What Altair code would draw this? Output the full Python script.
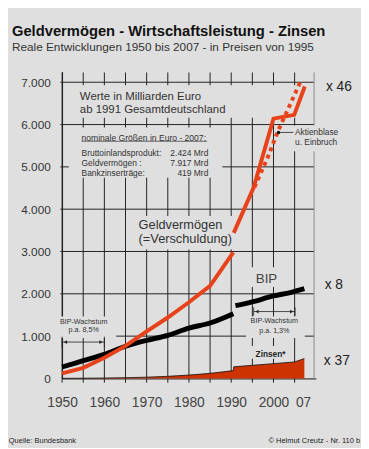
import altair as alt
import pandas as pd

BG = "#dfdfdf"
RED = "#e8421a"
ZINS = "#cc3300"
FONT = "Liberation Sans"

# ---------------- data ----------------
gv_old_years = [1950, 1955, 1960, 1965, 1970, 1975, 1980, 1985, 1990.5]
gv_old_vals = [120, 250, 490, 770, 1110, 1440, 1800, 2190, 2980]
gv_new_years = [1990.6, 1995.3, 2000, 2004.9, 2007.4]
gv_new_vals = [3440, 4510, 6140, 6230, 6900]
gv_dot_years = [1995.5, 1998.8, 2000.9, 2003.7, 2006.3]
gv_dot_vals = [4520, 5260, 5810, 6420, 7000]

bip_old_years = [1950, 1955, 1960, 1965, 1970, 1975, 1980, 1985, 1990.5]
bip_old_vals = [270, 420, 570, 760, 900, 1020, 1190, 1310, 1530]
bip_new_years = [1991, 1995, 2000, 2004, 2007.3]
bip_new_vals = [1720, 1810, 1950, 2030, 2120]

zins_years = [1950, 1955, 1960, 1965, 1970, 1975, 1980, 1985, 1990.5, 1990.6, 1995, 2000, 2005, 2007.3]
zins_vals = [2, 5, 10, 18, 30, 50, 80, 120, 185, 275, 310, 350, 390, 470]

grid_years = [1950, 1955, 1960, 1965, 1970, 1975, 1980, 1985, 1990, 1995, 2000, 2005]
grid_vals = [1000, 2000, 3000, 4000, 5000, 6000, 7000]
x_ticks = [1950, 1960, 1970, 1980, 1990, 2000, 2007]
y_ticks = [0, 1000, 2000, 3000, 4000, 5000, 6000, 7000]

# annotation boxes that hide the grid (x1, x2, y1, y2)
mask_x1 = [1950.5, 1951.6, 1967.2, 1994.0, 1993.5, 1993.6, 1949.3, 2002.1]
mask_x2 = [2007.5, 1987.9, 1990.5, 2003.3, 2007.4, 2004.7, 1962.8, 2012.1]
mask_y1 = [6163, 4744, 3047, 2163, 953, 465, 953, 5372]
mask_y2 = [6930, 5930, 3837, 2628, 1465, 767, 1465, 5977]

XD = [1950, 2010]
YD = [0, 7250]


def X(f="x"):
    return alt.X(f"{f}:Q", scale=alt.Scale(domain=XD, nice=False, zero=False))


def Y(f="y"):
    return alt.Y(f"{f}:Q", scale=alt.Scale(domain=YD, nice=False))


# ---------------- grid ----------------
vgrid = alt.Chart(pd.DataFrame({"x": grid_years, "y": -100, "y2": 7230})).mark_rule(
    color="#222", strokeWidth=1
).encode(x=X().axis(values=x_ticks, labelExpr="datum.value == 2007 ? '07' : datum.value",
                    title=None, ticks=False, grid=False, labelPadding=18, labelFontSize=14,
                    labelColor="#444", labelFont=FONT, domainColor="#111", labelFlush=False),
         y=Y().axis(values=y_ticks, labelExpr="replace(format(datum.value, ','), ',', '.')",
                    title=None, ticks=False, grid=False, labelPadding=12, labelFontSize=12,
                    labelColor="#333", labelFont=FONT, domainColor="#111"),
         y2="y2:Q")

hgrid = alt.Chart(pd.DataFrame({"y": grid_vals, "x": 1949.6, "x2": 2009.6})).mark_rule(
    color="#222", strokeWidth=1
).encode(x=X(), x2="x2:Q", y=Y())

frame = alt.Chart(pd.DataFrame({"x": [2009.6], "y": [0], "y2": [7230]})).mark_rule(
    color="#8a8a8a", strokeWidth=1
).encode(x=X(), y=Y(), y2="y2:Q")

masks = alt.Chart(pd.DataFrame({"x": mask_x1, "x2": mask_x2, "y": mask_y1, "y2": mask_y2})).mark_rect(
    color=BG
).encode(x=X(), x2="x2:Q", y=Y(), y2="y2:Q")

# ---------------- series ----------------
zins_df = pd.DataFrame({"x": zins_years, "y": zins_vals})
zins_area = alt.Chart(zins_df).mark_area(color=ZINS, opacity=1).encode(x=X(), y=Y())
zins_line = alt.Chart(zins_df).mark_line(color="#111", strokeWidth=0.8).encode(x=X(), y=Y())

bip_df = pd.DataFrame({
    "x": bip_old_years + bip_new_years,
    "y": bip_old_vals + bip_new_vals,
    "seg": ["a"] * len(bip_old_years) + ["b"] * len(bip_new_years),
})
bip = alt.Chart(bip_df).mark_line(color="#000", strokeWidth=5, strokeCap="butt", interpolate="monotone").encode(
    x=X(), y=Y(), detail="seg:N")

gv_df = pd.DataFrame({
    "x": gv_old_years + gv_new_years,
    "y": gv_old_vals + gv_new_vals,
    "seg": ["a"] * len(gv_old_years) + ["b"] * len(gv_new_years),
})
gv = alt.Chart(gv_df).mark_line(color=RED, strokeWidth=4, strokeCap="butt").encode(
    x=X(), y=Y(), detail="seg:N")

gv_dot = alt.Chart(pd.DataFrame({"x": gv_dot_years, "y": gv_dot_vals})).mark_line(
    color=RED, strokeWidth=4, strokeDash=[4, 4], strokeCap="butt"
).encode(x=X(), y=Y())

# ---------------- annotations ----------------
ul = alt.Chart(pd.DataFrame({"x": [1954.6], "x2": [1984.3], "y": [5605]})).mark_rule(
    color="#333", strokeWidth=0.7).encode(x=X(), x2="x2:Q", y=Y())

arrows = alt.Chart(pd.DataFrame({"x": [1950, 1995.3, 2001.2], "x2": [1960, 2005.1, 2004.7],
                                 "y": [860, 1581, 5814]})).mark_rule(
    color="#222", strokeWidth=0.8).encode(x=X(), x2="x2:Q", y=Y())
arrow_ends = alt.Chart(pd.DataFrame({"x": [1950, 1960, 1995.3, 2005.1],
                                     "y": [730, 730, 1480, 1480],
                                     "y2": [990, 990, 1680, 1680]})).mark_rule(
    color="#222", strokeWidth=0.8).encode(x=X(), y=Y(), y2="y2:Q")
heads_l = alt.Chart(pd.DataFrame({"x": [1950.8, 1996.1], "y": [860, 1581]})).mark_point(
    shape="triangle-left", filled=True, color="#222", size=14, opacity=1).encode(x=X(), y=Y())
heads_r = alt.Chart(pd.DataFrame({"x": [1959.2, 2004.3], "y": [860, 1581]})).mark_point(
    shape="triangle-right", filled=True, color="#222", size=14, opacity=1).encode(x=X(), y=Y())
dot = alt.Chart(pd.DataFrame({"x": [2001.2], "y": [5814]})).mark_point(
    shape="circle", filled=True, color="#111", size=12, opacity=1).encode(x=X(), y=Y())

left_texts = pd.DataFrame([
    (1954.2, 6651, "Werte in Milliarden Euro", 11.6, "#333"),
    (1954.2, 6337, "ab 1991 Gesamtdeutschland", 11.6, "#333"),
    (1954.6, 5686, "nominale Größen in Euro - 2007:", 8.7, "#333"),
    (1954.6, 5326, "Bruttoinlandsprodukt:", 8.6, "#333"),
    (1954.6, 5093, "Geldvermögen :", 8.6, "#333"),
    (1954.6, 4860, "Bankzinserträge:", 8.6, "#333"),
    (1968.1, 3628, "Geldvermögen", 13, "#333"),
    (1968.1, 3302, "(=Verschuldung)", 13, "#333"),
    (1995.8, 2349, "BIP", 13.6, "#444"),
    (2005.1, 5814, "Aktienblase", 8.5, "#333"),
    (2005.1, 5581, "u. Einbruch", 8.5, "#333"),
    (2012.4, 6884, "x 46", 14, "#222"),
    (2012.1, 2209, "x 8", 14, "#222"),
    (2011.9, 419, "x 37", 14, "#222"),
    (1937.4, -1470, "Quelle: Bundesbank", 7.6, "#222"),
], columns=["x", "y", "text", "size", "color"])

right_texts = pd.DataFrame([
    (1984.6, 5326, "2.424 Mrd", 8.6, "#333"),
    (1984.6, 5093, "7.917 Mrd", 8.6, "#333"),
    (1984.6, 4860, "419 Mrd", 8.6, "#333"),
    (2020.5, -1470, "© Helmut Creutz - Nr. 110 b", 7.6, "#222"),
], columns=["x", "y", "text", "size", "color"])

center_texts = pd.DataFrame([
    (1955.1, 1326, "BIP-Wachstum", 7.3, "#333"),
    (1955.1, 1140, "p.a.  8,5%", 7.3, "#333"),
    (2000.2, 1349, "BIP-Wachstum", 7.3, "#333"),
    (2000.2, 1116, "p.a.  1,3%", 7.3, "#333"),
], columns=["x", "y", "text", "size", "color"])


def texts(df, align, weight="normal"):
    return alt.Chart(df).mark_text(align=align, baseline="middle", font=FONT, fontWeight=weight).encode(
        x=X(), y=Y(), text="text:N",
        size=alt.Size("size:Q", scale=None),
        color=alt.Color("color:N", scale=None))


zins_label = alt.Chart(pd.DataFrame({"x": [1999.3], "y": [581], "text": ["Zinsen*"]})).mark_text(
    align="center", baseline="middle", font=FONT, fontWeight="bold", fontSize=8.4, color="#222"
).encode(x=X(), y=Y(), text="text:N")

chart = alt.layer(
    vgrid, hgrid, frame, masks, zins_area, zins_line, bip, gv, gv_dot,
    ul, arrows, arrow_ends, heads_l, heads_r, dot,
    texts(left_texts, "left"), texts(right_texts, "right"), texts(center_texts, "center"),
    zins_label,
).properties(
    width=258, height=312,
    padding={"left": 55, "top": 61, "right": 46, "bottom": 67},
    autosize=alt.AutoSizeParams(type="none"),
    background=BG,
    title=alt.TitleParams(
        "Geldvermögen - Wirtschaftsleistung - Zinsen",
        subtitle="Reale Entwicklungen 1950 bis 2007 -  in Preisen von 1995",
        anchor="start", frame="group", dx=-51, font=FONT, fontSize=15, fontWeight="bold", color="#111",
        subtitleFont=FONT, subtitleFontSize=12, subtitleColor="#333",
        offset=19, subtitlePadding=3,
    ),
).configure_view(stroke=None)

chart.save("out.html", embed_options={"renderer": "svg", "actions": False})
